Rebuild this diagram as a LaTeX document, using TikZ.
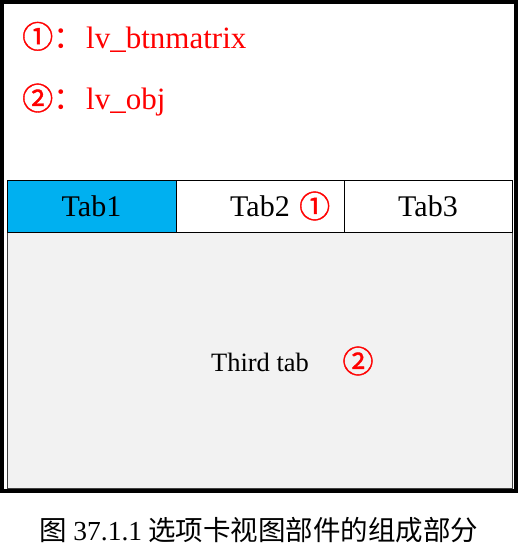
\documentclass[tikz,border=0pt]{standalone}
\usepackage{fontspec}
\setmainfont{Liberation Serif}
\newfontfamily\cjk{Noto Sans CJK SC}
\newfontfamily\cjkb[FakeBold=1.2]{Noto Sans CJK SC}
\usetikzlibrary{positioning}
\definecolor{tabblue}{HTML}{00B0F0}
\definecolor{panelgray}{HTML}{F2F2F2}

\begin{document}
\begin{tikzpicture}
[x=1pt,y=-1pt
,tab/.style={draw,line width=1pt,minimum height=52pt,inner sep=0pt,font=\fontsize{30}{34}\selectfont}
,panel/.style={draw=black!75,fill=panelgray,line width=1pt,minimum width=505pt,minimum height=256pt,inner sep=0pt}
,note/.style={red,anchor=west,inner sep=0pt,font=\fontsize{31}{36}\selectfont}
,num/.style={red,inner sep=0pt,font=\cjkb\fontsize{31}{36}\selectfont}
,txt/.style={inner sep=0pt,font=\fontsize{26.5}{30}\selectfont}
]
\useasboundingbox (0,0) rectangle (519,551);
% outer window
\draw[line width=3.5pt] (2,2) rectangle (516,491);

% legend
\node[note] (l1) at (22,37) {{\cjkb ①}{\cjk ：}\hspace{2pt}lv\_btnmatrix};
\node[note] (l2) at (22,100) {{\cjkb ②}{\cjk ：}\hspace{2pt}lv\_obj};

% tab bar and content
\node[panel] (pn) at (259.5,360) {};
\node[tab,fill=tabblue,minimum width=169pt] (t1) at (91.5,206) {Tab1};
\node[tab,minimum width=168pt] (t2) at (260,206) {};
\node[tab,minimum width=168pt] (t3) at (428,206) {Tab3};
\node[txt,font=\fontsize{30}{34}\selectfont] (t2l) at (t2.center) {Tab2};
\node[num,right=9pt of t2l] (n1) {①};

\node[txt] (pt) at (260,362) {Third tab};
\node[num] (n2) at (358,361) {②};

% caption
\node[inner sep=0pt,font=\cjk\fontsize{27.5}{32}\selectfont] (cap) at (259,530) {图 {\rmfamily 37.1.1} 选项卡视图部件的组成部分};
\end{tikzpicture}
\end{document}
